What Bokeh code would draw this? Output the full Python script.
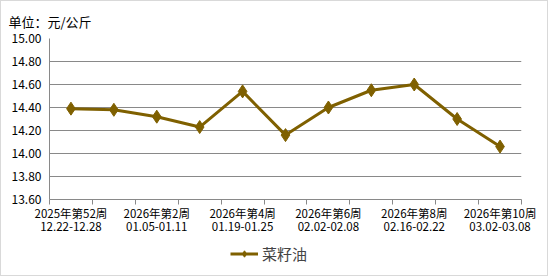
from bokeh.plotting import figure
from bokeh.models import FixedTicker, Range1d, Legend, LegendItem
from bokeh.layouts import column
from bokeh.embed import file_html
from bokeh.resources import INLINE

weeks = ["2025年第52周", "2026年第1周", "2026年第2周", "2026年第3周", "2026年第4周",
         "2026年第5周", "2026年第6周", "2026年第7周", "2026年第8周", "2026年第9周", "2026年第10周"]
dates = ["12.22-12.28", "12.29-01.04", "01.05-01.11", "01.12-01.18", "01.19-01.25",
         "01.26-02.01", "02.02-02.08", "02.09-02.15", "02.16-02.22", "02.23-03.01", "03.02-03.08"]
prices = [14.39, 14.38, 14.32, 14.23, 14.54, 14.16, 14.40, 14.55, 14.60, 14.30, 14.06]
series_name = "菜籽油"
unit_text = "单位：元/公斤"
y_ticks = [13.6, 13.8, 14.0, 14.2, 14.4, 14.6, 14.8, 15.0]

xs = list(range(len(weeks)))
color = "#7F6000"
grid = "#898989"
font = "Noto Sans CJK SC"

p = figure(width=546, height=236, output_backend="svg", toolbar_location=None,
           x_range=Range1d(-0.5, len(weeks) - 0.5), y_range=Range1d(13.6, 15.0),
           min_border_left=48, min_border_right=26, min_border_top=36, min_border_bottom=38)
p.outline_line_color = None
p.background_fill_color = "white"
p.border_fill_color = "white"

p.title.text = unit_text
p.title.text_font = font
p.title.text_font_size = "13px"
p.title.text_font_style = "normal"
p.title.text_color = "#000000"
p.title.align = "left"
p.title.offset = -41
p.title.standoff = 16

line = p.line(xs, prices, line_color=color, line_width=3)
marks = p.scatter(xs, prices, marker="diamond", size=13, fill_color=color, line_color=color)

# x axis
shown = list(range(0, len(weeks), 2))
p.xaxis.ticker = FixedTicker(ticks=shown, minor_ticks=[i - 0.5 for i in range(len(weeks) + 1)])
p.xaxis.major_label_overrides = {i: weeks[i] + "\n" + dates[i] for i in shown}
p.xaxis.major_tick_line_color = None
p.xaxis.major_tick_out = 0
p.xaxis.major_tick_in = 0
p.xaxis.minor_tick_line_color = grid
p.xaxis.minor_tick_in = 0
p.xaxis.minor_tick_out = 5
p.xaxis.axis_line_color = grid
p.xaxis.major_label_text_font = font
p.xaxis.major_label_text_font_size = "11.5px"
p.xaxis.major_label_text_line_height = 0.85
p.xaxis.major_label_text_color = "#000000"
p.xaxis.major_label_standoff = 0
p.xaxis.axis_label_standoff = 0
p.xgrid.grid_line_color = None

# y axis
p.yaxis.ticker = FixedTicker(ticks=y_ticks)
p.yaxis.major_label_overrides = {t: f"{t:.2f}" for t in y_ticks}
p.yaxis.major_tick_line_color = None
p.yaxis.major_tick_out = 0
p.yaxis.major_tick_in = 0
p.yaxis.minor_tick_line_color = None
p.yaxis.minor_tick_out = 0
p.yaxis.minor_tick_in = 0
p.yaxis.axis_label_standoff = 0
p.yaxis.axis_line_color = grid
p.yaxis.major_label_text_font = font
p.yaxis.major_label_text_font_size = "12px"
p.yaxis.major_label_text_color = "#000000"
p.yaxis.major_label_standoff = 8
p.ygrid.grid_line_color = grid
p.ygrid.ticker = FixedTicker(ticks=y_ticks)

# legend strip below the chart (series drawn off-range, only its legend shows)
lg = figure(width=546, height=38, output_backend="svg", toolbar_location=None,
            x_range=Range1d(-0.5, len(weeks) - 0.5), y_range=Range1d(0, 1),
            min_border_left=48, min_border_top=0, min_border_right=26, min_border_bottom=6,
            outline_line_color=None)
lg.axis.visible = False
lg.grid.visible = False
lg.background_fill_color = "white"
lg.border_fill_color = "white"
lg_line = lg.line(xs, prices, line_color=color, line_width=3)
lg_mark = lg.scatter(xs, prices, marker="diamond", size=13, fill_color=color, line_color=color)
legend = Legend(items=[LegendItem(label=series_name, renderers=[lg_line, lg_mark])],
                orientation="horizontal", location="left",
                label_text_font=font, label_text_font_size="15px",
                border_line_color=None, background_fill_alpha=0,
                glyph_width=28, glyph_height=16, label_height=16, label_standoff=4,
                margin=181, padding=0)
lg.add_layout(legend)

layout = column(p, lg, spacing=0, styles={"border": "1px solid #d9d9d9"})
open("out.html", "w").write(file_html(layout, INLINE))
